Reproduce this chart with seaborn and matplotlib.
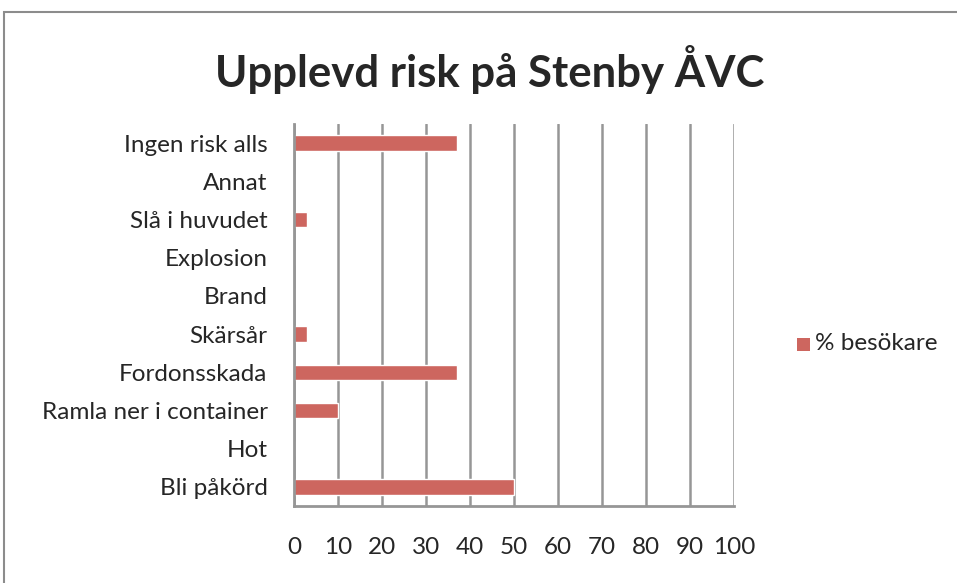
import matplotlib
matplotlib.use("Agg")
import matplotlib.pyplot as plt
import seaborn as sns
import pandas as pd
import numpy as np
from matplotlib.patches import Rectangle

categories = ["Ingen risk alls", "Annat", "Slå i huvudet", "Explosion", "Brand",
              "Skärsår", "Fordonsskada", "Ramla ner i container", "Hot", "Bli påkörd"]
values = [37, 0, 3, 0, 0, 3, 37, 10, 0, 50]
series_name = "% besökare"
x_ticks = [0, 10, 20, 30, 40, 50, 60, 70, 80, 90, 100]

df = pd.DataFrame({"Kategori": categories, "Värde": values, "Serie": series_name})

sns.set_style("white")
plt.rcParams['font.family'] = ['Lato', 'DejaVu Sans']

W, H = 957, 583
fig = plt.figure(figsize=(W/100, H/100), dpi=100)
ax = fig.add_axes([294/W, 1-506/H, (734-294)/W, (506-124)/H])

bar_color = "#CD665F"
grid_color = "#969696"

sns.barplot(data=df, x="Värde", y="Kategori", hue="Serie", order=categories,
            palette=[bar_color], orient="h", width=0.4, ax=ax, legend=False,
            saturation=1)

ax.set_xlim(0, 100)
ax.set_ylim(len(categories)-0.5, -0.5)
ax.set_xticks(x_ticks)
ax.set_xticklabels([str(t) for t in x_ticks], fontsize=17.5)
ax.set_xlabel("")
ax.set_ylabel("")
ax.tick_params(axis="y", which="major", length=0, labelsize=17.5, pad=19)
ax.set_yticks(np.arange(-0.5, len(categories), 1.0), minor=True)
ax.tick_params(axis="y", which="minor", length=6, width=2, color=grid_color, direction="out")
ax.tick_params(axis="x", which="major", length=6, width=2, color=grid_color, direction="out", pad=16)
ax.grid(axis="x", color=grid_color, linewidth=1.8)
ax.set_axisbelow(True)
for s in ["top", "right"]:
    ax.spines[s].set_visible(False)
for s in ["left", "bottom"]:
    ax.spines[s].set_color(grid_color)
    ax.spines[s].set_linewidth(2)

fig.text(490/W, 1-70/H, "Upplevd risk på Stenby ÅVC", ha="center", va="center",
         fontsize=31.5, fontweight="bold")

# legend
fig.patches.append(Rectangle((797/W, 1-351/H), 13/W, 13/H, transform=fig.transFigure,
                             facecolor=bar_color, edgecolor="none"))
fig.text(815/W, 1-344/H, series_name, ha="left", va="center", fontsize=17.5)

# outer border
fig.patches.append(Rectangle((3.5/W, -0.1), 1.2, 1+0.1-12.5/H, transform=fig.transFigure,
                             facecolor="none", edgecolor="#8c8c8c", linewidth=1.5))

fig.savefig("out.png", dpi=100)
